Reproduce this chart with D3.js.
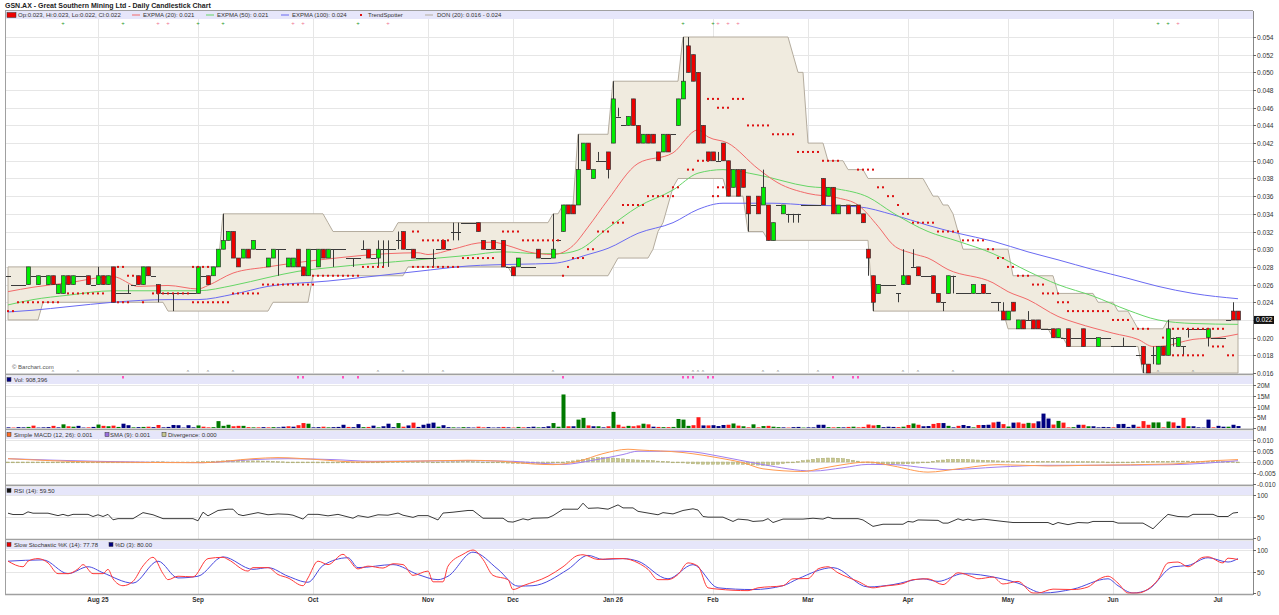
<!DOCTYPE html>
<html>
<head>
<meta charset="utf-8">
<script src="https://cdn.jsdelivr.net/npm/d3@7"></script>
<style>
body { margin: 0; background: #fff; }
text { font-family: "Liberation Sans", Arial, sans-serif; }
</style>
</head>
<body>
<svg id="chart" width="1279" height="615"></svg>
<script>
// month labels and the bar index where each month starts
var monthNames = ["Aug 25", "Sep", "Oct", "Nov", "Dec", "Jan 26", "Feb", "Mar", "Apr", "May", "Jun", "Jul"];
var monthStart = [18, 38, 61, 84, 101, 121, 141, 160, 180, 200, 221, 242];

// daily prices, in thousandths of a dollar
var opens = [27,26,26,26,26,27,26,27,26,27, 25,25,27,26,27,27,27,26,26,27, 26,28,25,25,25,26,27,26,28,27,
  26,25,25,25,25,25,25,25,25,27, 27,27,28,30,31,32,29,29,30,30, 30,30,28,29,30,30,28,28,30,28,
  27,30,28,30,29,30,30,30,29,29, 29,30,30,29,29,30,30,30,31,32, 30,30,29,29,29,29,30,31,30,32,
  32,33,33,33,33,31,30,31,30,31, 28,28,28,28,28,28,30,29,29,29, 31,32,35,35,35,40,42,38,40,40,
  41,42,45,44,44,47,44,42,43,43, 41,41,43,43,44,47,53,52,50,44, 41,41,40,42,40,37,39,39,36,35,
  36,35,35,31,35,34,34,34,34,35, 35,35,35,38,36,37,34,35,35,35, 35,34,30,27,25,26,26,26,25,26,
  27,28,28,27,27,27,25,24,25,27, 25,25,25,25,25,26,25,24,24,23, 22,24,21,22,22,22,22,21,21,21,
  20,20,21,20,20,21,20,20,19,20, 20,19,19,19,19,19,18,19,17,18, 17,19,18,20,19,19,21,21,21,21,
  20,20,20,20,22,23,23];
var highs = [27,26,26,26,28,27,27,27,27,27, 26,27,27,27,27,27,27,26,28,27, 27,28,25,25,26,26,27,28,28,27,
  26,25,25,25,25,25,25,25,28,27, 27,28,30,34,32,32,29,30,30,31, 30,30,29,30,30,30,29,29,30,28,
  30,30,30,30,30,30,30,30,29,29, 29,31,30,29,31,31,31,30,32,32, 30,30,29,29,29,30,30,31,30,33,
  33,33,33,33,33,31,30,31,30,31, 28,28,29,28,28,28,30,29,29,34, 31,35,35,35,43,42,42,39,41,40,
  41,49,46,44,45,47,44,43,43,43, 41,43,43,43,47,54,54,52,50,44, 41,41,41,42,40,39,39,39,36,35,
  36,39,35,33,35,35,34,34,34,35, 35,35,35,38,37,37,35,35,35,35, 35,34,30,27,26,26,26,26,25,30,
  27,30,28,27,27,27,25,24,27,27, 25,25,25,26,25,26,25,24,24,24, 23,24,22,22,23,22,22,21,21,21,
  21,20,21,20,20,21,20,20,20,20, 20,19,19,20,19,19,18,19,17,19, 19,19,22,20,20,19,21,21,21,21,
  21,20,20,20,22,24,23];
var lows = [27,26,26,26,26,27,26,27,26,26, 25,25,26,26,27,27,26,26,26,26, 26,24,25,25,25,26,26,26,27,27,
  24,25,25,23,25,25,25,25,25,27, 26,27,28,30,31,29,28,29,29,30, 30,30,28,29,27,30,28,28,28,27,
  27,30,28,29,29,28,30,30,29,28, 29,30,29,29,28,28,28,30,30,30, 30,29,29,29,29,28,30,30,30,31,
  31,33,33,33,32,30,30,30,30,28, 28,27,28,28,28,28,29,29,29,29, 31,32,34,34,35,40,39,38,40,40,
  38,42,45,44,44,44,42,42,42,42, 40,41,41,43,44,47,50,49,42,42, 40,40,40,40,36,37,36,37,32,35,
  34,35,31,31,35,34,33,33,33,35, 35,35,35,35,36,34,34,35,34,35, 34,33,27,23,25,26,26,26,24,26,
  26,28,27,27,27,25,24,23,25,25, 25,25,25,25,25,25,25,24,23,22, 22,23,21,21,22,21,21,21,21,20,
  20,20,19,20,20,19,20,20,19,20, 20,19,19,19,19,19,18,16,16,17, 17,18,18,19,19,18,20,21,21,21,
  19,20,20,20,22,22,22];
var closes = [27,26,26,26,28,27,27,27,27,26, 26,27,26,27,27,27,26,26,27,26, 27,24,25,25,25,26,26,28,27,27,
  25,25,25,25,25,25,25,25,28,27, 26,28,30,31,32,29,28,30,29,31, 30,30,29,30,30,30,29,29,28,27,
  30,30,30,29,30,30,30,30,29,29, 29,30,29,29,30,30,30,30,31,30, 30,29,29,29,29,29,30,30,30,32,
  32,33,33,33,32,30,30,30,30,28, 28,27,29,28,28,28,29,29,29,30, 31,35,34,34,39,42,39,39,40,40,
  39,47,45,44,45,44,42,43,42,42, 40,43,41,43,47,49,50,49,42,42, 40,40,40,40,36,39,36,37,34,35,
  34,37,31,33,35,35,34,34,34,35, 35,35,35,35,37,34,35,35,34,35, 34,33,29,24,26,26,26,26,25,27,
  26,28,27,27,27,25,24,24,27,27, 25,25,25,26,25,25,25,24,24,22, 23,23,22,21,22,21,21,21,21,20,
  21,20,19,20,20,19,20,20,20,20, 20,19,19,19,19,19,18,17,16,18, 19,18,21,20,20,19,21,21,21,21,
  21,20,20,20,22,22,22];

// daily volume, millions of shares
var volumes = [0.3,0.2,0.4,0.3,0.5,1.1,0.2,0.3,0.4,1.0, 0.3,1.7,0.8,0.6,1.0,0.2,0.3,0.5,1.6,1.0,
  0.8,1.1,0.5,2.0,1.3,0.3,0.4,0.5,0.6,0.4, 1.4,0.3,0.5,1.4,1.3,0.2,1.3,0.3,1.2,0.6,
  0.3,0.4,3.2,1.0,1.5,0.8,1.0,1.0,0.4,0.3, 0.3,0.4,0.3,0.4,0.3,0.6,0.8,0.6,1.3,2.3,
  2.0,0.3,0.4,0.6,0.3,0.4,0.5,1.5,0.5,0.4, 1.8,0.4,0.5,1.1,0.3,0.8,2.0,0.4,2.3,0.6,
  1.2,2.5,0.5,1.5,2.0,2.5,0.6,1.3,0.4,0.3, 0.2,0.4,0.3,0.2,0.6,0.3,0.4,0.2,0.3,0.5,
  0.3,0.2,0.5,0.3,0.4,0.6,0.3,0.4,0.8,2.3, 0.6,15.6,0.8,0.8,3.9,4.7,1.2,0.8,0.8,0.3,
  0.8,7.5,1.5,0.6,1.0,0.8,1.2,2.0,1.7,0.6, 0.5,0.4,0.4,0.5,4.2,3.9,1.0,1.3,5.0,1.2,
  1.2,1.3,0.9,1.4,1.5,2.1,1.1,0.8,0.3,1.7, 0.3,0.9,1.0,0.6,0.4,0.3,0.2,0.4,0.5,0.2,
  0.3,0.3,1.5,1.5,0.4,0.3,0.4,0.3,0.5,0.6, 0.3,0.5,1.6,1.2,1.4,0.4,0.6,0.5,0.4,0.6,
  1.4,2.1,1.5,0.8,0.9,1.9,2.3,2.3,1.0,0.3, 1.0,1.4,0.9,0.3,1.4,1.4,1.5,2.6,2.9,1.8,
  0.7,2.5,2.6,2.0,2.4,2.2,3.1,6.7,4.4,1.6, 3.3,2.5,0.3,0.4,1.5,1.5,0.8,0.8,0.3,0.5,
  0.4,0.3,1.8,1.9,0.5,1.5,0.6,3.2,1.5,2.6, 2.6,0.3,3.0,2.6,1.0,4.7,0.8,0.8,0.3,0.2,
  3.9,0.3,1.0,0.6,0.6,1.5,0.9];

// moving averages: [bar index, price in thousandths]
var ema20 = [[0,25.2],[5,25.7],[12,26.2],[21,26.9],[26,25.8],[32,25.9],[38,25.5],[40,25.9],[45,27.3],[52,28.0],
  [58,28.5],[64,28.9],[76,29.5],[82,29.6],[84,29.4],[89,30.0],[94,30.7],[97,30.8],[100,30.4],[104,29.7],
  [109,29.4],[113,30.4],[116,32.5],[120,35.6],[126,39.7],[133,40.9],[138,43.5],[140,42.7],[144,42.0],[150,39.1],
  [154,37.5],[160,36.3],[166,35.8],[170,35.0],[174,32.6],[177,30.5],[181,29.5],[184,29.0],[188,27.7],[197,26.2],
  [200,25.2],[204,24.3],[210,22.4],[214,21.6],[217,21.1],[221,20.5],[226,19.8],[229,19.0],[232,19.1],[234,19.4],
  [237,19.8],[242,20.0],[246,20.4]];
var ema50 = [[0,23.7],[5,24.3],[12,24.8],[21,25.3],[32,25.3],[38,25.3],[45,25.9],[52,26.8],[58,27.5],[64,27.9],
  [82,28.8],[92,29.3],[99,29.7],[106,29.5],[110,29.5],[114,29.9],[120,32.4],[126,34.8],[133,36.7],[138,38.6],
  [143,39.0],[150,38.4],[160,37.1],[166,36.8],[172,35.9],[177,34.1],[184,32.0],[190,30.9],[197,29.5],[204,27.5],
  [210,26.0],[217,24.7],[224,23.1],[230,22.0],[237,21.6],[246,21.5]];
var ema100 = [[0,22.9],[5,23.1],[12,23.5],[21,24.0],[32,24.3],[38,24.3],[45,24.9],[52,25.8],[64,26.4],[82,27.5],
  [92,28.1],[102,28.3],[109,28.4],[116,29.4],[120,30.1],[126,31.8],[133,33.0],[138,34.5],[143,35.2],[153,35.2],
  [160,35.0],[170,34.8],[177,33.9],[184,32.7],[190,31.8],[197,30.9],[204,29.7],[210,28.8],[217,27.7],[224,26.7],
  [230,25.8],[237,25.0],[246,24.4]];

// Donchian channel (20): [first bar index, level in thousandths]
var donUpper = [[0,28],[43,34],[64,33],[65,32],[78,33],[109,34],[111,35],[114,43],[121,49],[135,54],[157,52],[158,50],
  [160,42],[164,40],[168,39],[172,38],[184,37],[185,36],[187,35],[189,34],[190,32],[191,30],[201,27],[210,25],
  [218,24],[222,23],[225,22],[226,21],[232,22]];
var donLower = [[0,22],[7,24],[32,23],[53,24],[61,27],[80,28],[101,27],[121,28],[122,29],[129,30],[130,32],[131,33],
  [132,35],[133,37],[134,38],[144,36],[148,32],[152,31],[173,23],[200,21],[209,20],[212,19],[227,16]];

// TrendSpotter stop dots: [first bar, last bar, level in thousandths]
var trendDots = [[0,1,23],[2,10,24],[12,19,25],[22,23,28],[22,24,24],[24,25,27],[27,27,24],[29,36,25],[37,40,28],
  [37,44,24],[45,50,25],[51,61,26],[61,70,27],[71,75,28],[81,82,32],[81,90,28],[83,88,31],[91,97,29],[99,102,32],
  [103,110,31],[111,111,27],[112,112,28],[113,115,29],[116,117,30],[118,120,32],[121,123,33],[123,127,35],
  [128,133,36],[133,134,37],[136,137,39],[138,140,40],[141,142,36],[142,144,37],[140,142,47],[142,144,46],
  [145,147,47],[148,152,44],[153,157,43],[158,162,41],[163,166,40],[170,173,39],[174,175,37],[176,177,36],
  [178,178,35],[179,180,34],[181,185,33],[186,190,32],[191,195,31],[196,197,30],[198,199,29],[200,201,28],
  [202,204,27],[205,207,26],[207,210,25],[210,212,24],[212,220,23],[221,224,22],[225,228,21],[231,231,20],
  [233,239,21],[233,239,18],[240,243,21],[241,243,19],[244,245,18]];

// MACD (12,26) and its SMA (9), in thousandths: [bar index, value]
var macdLine = [[0,1.5],[18,0.0],[39,-0.3],[49,1.5],[54,2.0],[62,1.1],[70,0.0],[80,0.3],[92,0.8],[99,0.3],
  [105,-0.9],[109,-1.2],[114,0.3],[119,3.8],[124,5.8],[126,5.5],[135,4.3],[143,1.5],[147,-0.3],[151,-3.1],
  [159,-4.3],[163,-2.8],[167,-1.2],[172,0.0],[177,-1.8],[184,-4.6],[190,-3.1],[198,-1.2],[208,-1.8],[216,-1.5],
  [233,-0.9],[241,0.6],[246,1.1]];
var macdSignal = [[0,1.5],[18,0.3],[39,-0.3],[49,1.1],[56,1.5],[65,1.1],[73,0.3],[92,0.6],[101,0.3],[108,-0.8],
  [111,-1.1],[117,0.8],[123,3.4],[126,4.9],[135,4.9],[143,2.3],[151,-1.2],[161,-4.1],[167,-2.6],[172,-1.1],
  [177,-1.2],[184,-2.8],[188,-3.5],[198,-2.3],[208,-1.5],[216,-1.5],[233,-1.2],[246,0.6]];
// divergence bars, thousandths, one per bar
var macdDiv = [-0.2,-0.2,-0.3,-0.3,-0.3,-0.3,-0.3,-0.3,-0.3,-0.3, -0.3,-0.3,-0.3,-0.3,-0.3,-0.3,-0.2,-0.2,-0.2,-0.2,
  -0.1,-0.1,-0.1,-0.1,-0.1,-0.1,-0.1,0.0,0.0,0.1, 0.1,0.1,0.0,0.0,0.0,0.0,0.0,0.0,0.1,0.2,
  0.2,0.3,0.4,0.5,0.6,0.6,0.6,0.6,0.5,0.5, 0.5,0.4,0.4,0.3,0.2,0.1,0.0,-0.1,-0.2,-0.3,
  -0.3,-0.3,-0.4,-0.4,-0.4,-0.4,-0.4,-0.3,-0.3,-0.3, -0.2,-0.2,-0.1,-0.1,0.0,0.0,0.1,0.1,0.2,0.2,
  0.2,0.2,0.1,0.1,0.1,0.0,0.0,0.1,0.1,0.2, 0.2,0.3,0.3,0.2,0.1,0.0,-0.1,-0.2,-0.3,-0.4,
  -0.5,-0.6,-0.6,-0.7,-0.7,-0.7,-0.6,-0.6,-0.5,-0.4, -0.3,-0.1,0.2,0.5,0.9,1.2,1.5,1.8,2.0,2.0,
  1.9,1.8,1.6,1.4,1.2,1.0,0.9,0.8,0.7,0.6, 0.4,0.3,0.2,0.0,-0.2,-0.4,-0.6,-0.8,-0.9,-1.0,
  -1.0,-1.0,-1.0,-1.0,-1.0,-1.0,-1.0,-1.1,-1.2,-1.3, -1.4,-1.5,-1.5,-1.3,-1.0,-0.7,-0.4,-0.1,0.2,0.6,
  0.9,1.2,1.5,1.7,1.8,1.8,1.7,1.5,1.2,0.8, 0.4,0.0,-0.3,-0.5,-0.7,-0.8,-0.9,-0.9,-0.9,-0.9,
  -0.8,-0.7,-0.5,-0.3,0.0,0.3,0.6,0.9,1.1,1.2, 1.2,1.2,1.1,1.0,0.9,0.8,0.7,0.6,0.5,0.4,
  0.4,0.3,0.3,0.3,0.3,0.3,0.3,0.3,0.3,0.3, 0.3,0.2,0.2,0.2,0.2,0.2,0.2,0.2,0.1,0.1,
  0.0,0.0,-0.1,-0.1,0.0,0.0,0.1,0.2,0.2,0.3, 0.3,0.3,0.3,0.4,0.4,0.4,0.4,0.3,0.3,0.3,
  0.3,0.3,0.2,0.2,0.1,0.1,0.0];

// RSI (14): [bar index, value]
var rsiLine = [[0,57.7],[1,54.6],[3,54.6],[4,60.8],[5,57.7],[8,57.7],[10,52],[11,55],[12,51.5],[13,55],[16,55],
  [17,50],[18,54],[19,50],[20,55],[21,42.3],[22,45],[25,45],[27,59],[29,54],[31,45],[37,45],[38,40],[39,60],
  [40,51.5],[42,64],[44,67],[45,67],[46,55],[47,52],[50,59],[52,54],[54,56],[56,55],[57,53],[59,44],[60,55],
  [62,55],[64,51.5],[66,55],[69,46],[70,52],[72,48],[74,54],[76,53],[78,58],[79,53],[81,48],[82,52],[84,52],
  [86,42],[87,58],[89,60],[92,64],[93,64],[95,46],[99,46],[100,38],[101,37],[103,44.6],[104,42],[105,46],
  [108,47],[109,52],[111,67],[114,67],[115,81],[116,69],[118,70],[120,67],[122,77],[123,70],[125,70],[126,62],
  [128,58],[130,54],[131,59],[133,56],[135,64],[137,68],[138,65],[139,50],[140,48.5],[143,48.5],[145,38.5],
  [146,44],[148,42],[149,38.5],[151,40],[152,45],[153,36],[155,44],[159,44],[161,46],[163,44],[164,48.5],
  [165,45],[170,45],[171,42],[173,27],[175,32],[179,32],[180,38.5],[181,37],[182,42],[186,41],[187,34.6],
  [188,34.6],[190,44.6],[191,41],[192,44],[193,41],[195,44],[199,38.5],[201,36],[208,36],[209,31],[210,36],
  [212,31],[214,36],[216,35],[217,38.5],[221,38.5],[222,34.6],[227,34.6],[229,21.5],[231,44.6],[232,55],
  [234,50],[236,49],[237,55],[241,55],[242,50],[244,50],[245,58],[246,59.5]];

// Slow stochastic %K (14) and %D (3): [bar index, value]
var stochK = [[0,74],[3,61],[4,74],[6,80],[8,70],[10,45],[12,45],[14,56],[15,66],[17,45],[19,45],[20,55],
  [21,33],[23,17],[25,27],[27,63],[29,83],[31,45],[32,31],[34,39],[37,37.5],[40,80],[43,83],[44,78],[48,51],
  [49,59],[52,59],[54,43],[56,35],[59,17],[60,35],[62,74],[64,66],[67,90],[68,80],[70,56],[72,62.5],[75,58],
  [77,68],[79,66],[81,41],[84,51],[85,26],[87,26],[88,62.5],[91,90],[93,100],[95,78],[97,41],[100,31],[101,8],
  [103,17],[108,39],[111,61],[114,87.5],[115,89],[118,78],[121,80],[123,80],[126,70],[128,55],[130,31],[132,31],
  [134,43],[136,70],[138,62.5],[140,12],[142,9],[148,5.5],[150,12],[155,17],[157,33],[160,33.6],[162,56],
  [164,61],[166,47],[170,27],[173,12],[175,15.6],[179,22],[181,31],[184,33],[187,19.5],[190,47],[193,37],
  [194,33],[197,37],[199,21],[202,27],[205,0],[206,0],[209,9],[213,8],[216,14],[218,31],[220,39],[222,23],
  [224,0],[226,0],[228,9],[230,31],[232,70],[234,72],[236,61],[239,83],[240,84],[243,70],[244,81],[246,77.8]];
var stochD = [[0,74],[7,77],[12,45],[16,61],[19,47],[25,23],[30,74],[34,35],[38,39],[43,84],[49,55],[52,59],
  [56,39],[60,25],[63,64],[68,82],[70,59],[77,66],[82,43],[86,31],[88,39],[93,95],[98,55],[102,16],[105,17],
  [112,55],[116,87.5],[119,78],[123,80],[126,74],[132,33],[137,66],[142,12],[149,8],[155,17],[158,33],[165,59],
  [172,14],[177,19.5],[183,33],[186,27],[191,45],[198,35],[202,23],[207,0],[213,9],[220,33],[222,17],[225,0],
  [228,8],[233,61],[236,64],[240,82],[244,72],[246,80]];

// signal markers: bar indexes
var topGreenMarks = [11, 23, 38, 43, 70, 135, 141, 230, 232];
var topPinkMarks = [30, 32, 57, 59, 76, 142, 144, 146, 234];
var bottomCarets = [9, 14, 36, 40, 45, 74, 79, 87, 109, 137, 138, 139, 151, 154, 162, 179, 182, 189, 230, 237];
var bottomPinkMarks = [23, 58, 59, 67, 70, 111, 135, 136, 137, 140, 141, 165, 169, 170];

// ---------------------------------------------------------------
var svg = d3.select("#chart");
var leftX = 5, rightX = 1253;
var nBars = closes.length;

var x = d3.scaleLinear().domain([0, nBars - 1]).range([8, 1238]);

// panels
var yPrice = d3.scaleLinear().domain([16, 54]).range([373, 37]);
var yVol = d3.scaleLinear().domain([0, 20]).range([428, 385]);
var yMacd = d3.scaleLinear().domain([-10, 10]).range([484, 440]);
var yRsi = d3.scaleLinear().domain([0, 100]).range([538, 495]);
var ySto = d3.scaleLinear().domain([0, 100]).range([593, 550]);

var panels = [
  {band: 11, top: 19, bottom: 374},
  {band: 376, top: 384, bottom: 429},
  {band: 431, top: 439, bottom: 485},
  {band: 487, top: 495, bottom: 539},
  {band: 541, top: 549, bottom: 594}
];

function expand(runs) {
  var out = [];
  var k = 0;
  for (var i = 0; i < nBars; i++) {
    while (k + 1 < runs.length && runs[k + 1][0] <= i) k++;
    out.push(runs[k][1]);
  }
  return out;
}

var fontTick = 6.6;
var fontLegend = 6.0;

// header bands
panels.forEach(function(p) {
  svg.append("rect").attr("x", leftX).attr("y", p.band).attr("width", rightX - leftX).attr("height", 8)
    .attr("fill", "#e6e6fa");
});

// gridlines
var grid = svg.append("g").attr("stroke", "#e6e6e6").attr("stroke-width", 1);
monthStart.forEach(function(m) {
  var gx = Math.round(x(m)) + 0.5;
  panels.forEach(function(p) {
    grid.append("line").attr("x1", gx).attr("x2", gx).attr("y1", p.top).attr("y2", p.bottom);
  });
});
function hgrid(scale, ticks) {
  ticks.forEach(function(t) {
    var gy = Math.round(scale(t)) + 0.5;
    grid.append("line").attr("x1", leftX).attr("x2", rightX).attr("y1", gy).attr("y2", gy);
  });
}
var priceTicks = d3.range(16, 55, 2);
hgrid(yPrice, priceTicks);
hgrid(yVol, [0, 5, 10, 15, 20]);
hgrid(yMacd, [-10, -5, 0, 5, 10]);
hgrid(yRsi, [50, 100]);
hgrid(ySto, [50, 100]);

// Donchian band
var upArr = expand(donUpper), loArr = expand(donLower);
var bandPts = [];
for (var i = 0; i < nBars; i++) bandPts.push([x(i), yPrice(upArr[i])]);
for (var j = nBars - 1; j >= 0; j--) bandPts.push([x(j), yPrice(loArr[j])]);
svg.append("path")
  .attr("d", d3.line()(bandPts) + "Z")
  .attr("fill", "#f0ebdf").attr("stroke", "#b4ac9e").attr("stroke-width", 1);

// moving averages
function drawLine(pts, scale, color, width, curve) {
  svg.append("path")
    .attr("d", d3.line().x(function(d) { return x(d[0]); }).y(function(d) { return scale(d[1]); })
      .curve(curve || d3.curveMonotoneX)(pts))
    .attr("fill", "none").attr("stroke", color).attr("stroke-width", width || 1);
}
drawLine(ema100, yPrice, "#6a6af2");
drawLine(ema50, yPrice, "#66d666");
drawLine(ema20, yPrice, "#f26a6a");

// candles
var cg = svg.append("g");
for (var b = 0; b < nBars; b++) {
  var cx = Math.round(x(b)) + 0.5;
  var o = opens[b], h = highs[b], l = lows[b], c = closes[b];
  if (h !== l) {
    cg.append("line").attr("x1", cx).attr("x2", cx)
      .attr("y1", yPrice(h)).attr("y2", yPrice(l)).attr("stroke", "#3a3a3a").attr("stroke-width", 1);
  }
  if (o === c) {
    var dy = Math.round(yPrice(o)) + 0.5;
    cg.append("line").attr("x1", cx - 2.5).attr("x2", cx + 2.5).attr("y1", dy).attr("y2", dy)
      .attr("stroke", "#3a3a3a").attr("stroke-width", 1);
  } else {
    var bodyTop = yPrice(Math.max(o, c)), bodyBot = yPrice(Math.min(o, c));
    cg.append("rect").attr("x", cx - 2).attr("y", bodyTop).attr("width", 4).attr("height", bodyBot - bodyTop)
      .attr("fill", c > o ? "#00ee00" : "#ee0000").attr("stroke", "#333").attr("stroke-width", 0.7);
  }
}

// TrendSpotter dots
var dg = svg.append("g").attr("fill", "#dd1111");
trendDots.forEach(function(r) {
  for (var i = r[0]; i <= r[1]; i++) {
    dg.append("rect").attr("x", x(i) - 1).attr("y", yPrice(r[2]) - 1).attr("width", 2).attr("height", 2);
  }
});

// signal markers
topGreenMarks.forEach(function(i) {
  svg.append("text").attr("x", x(i)).attr("y", 25).attr("text-anchor", "middle")
    .attr("font-size", 6).attr("fill", "#2a9a2a").text("+");
});
topPinkMarks.forEach(function(i) {
  svg.append("text").attr("x", x(i)).attr("y", 25).attr("text-anchor", "middle")
    .attr("font-size", 6).attr("fill", "#f07090").text("+");
});
bottomCarets.forEach(function(i) {
  svg.append("text").attr("x", x(i)).attr("y", 374).attr("text-anchor", "middle")
    .attr("font-size", 5).attr("fill", "#777").text("^");
});
bottomPinkMarks.forEach(function(i) {
  svg.append("rect").attr("x", x(i) - 1).attr("y", 376).attr("width", 2).attr("height", 2.5).attr("fill", "#ff55bb");
});

// volume bars
var vg = svg.append("g");
for (var v = 0; v < nBars; v++) {
  var prevClose = v > 0 ? closes[v - 1] : closes[v];
  var col = closes[v] > prevClose ? "#007a00" : (closes[v] < prevClose ? "#ff1a1a" : "#000080");
  var vy = yVol(volumes[v]);
  vg.append("rect").attr("x", Math.round(x(v)) - 1.5).attr("y", vy).attr("width", 4)
    .attr("height", yVol(0) - vy).attr("fill", col);
}

// MACD
var hg = svg.append("g").attr("fill", "#c8c890").attr("stroke", "#a9a970").attr("stroke-width", 0.5);
for (var m = 0; m < nBars; m++) {
  var y0 = yMacd(0), y1 = yMacd(macdDiv[m]);
  hg.append("rect").attr("x", Math.round(x(m)) - 1.5).attr("y", Math.min(y0, y1)).attr("width", 3)
    .attr("height", Math.max(0.8, Math.abs(y1 - y0)));
}
drawLine(macdSignal, yMacd, "#a07ff0");
drawLine(macdLine, yMacd, "#ff9a50");

// RSI and stochastic
drawLine(rsiLine, yRsi, "#3a3a3a", 1, d3.curveLinear);
drawLine(stochD, ySto, "#4a4ae0", 1, d3.curveMonotoneX);
drawLine(stochK, ySto, "#ff3a3a", 1, d3.curveMonotoneX);

// frames and separators
var fr = svg.append("g").attr("stroke", "#a0a0a0").attr("fill", "none");
fr.append("line").attr("x1", leftX + 0.5).attr("x2", leftX + 0.5).attr("y1", 11).attr("y2", 595);
fr.append("line").attr("x1", rightX + 0.5).attr("x2", rightX + 0.5).attr("y1", 11).attr("y2", 595).attr("stroke", "#888");
fr.append("line").attr("x1", leftX).attr("x2", rightX).attr("y1", 10.5).attr("y2", 10.5);
[374.5, 429.5, 485.5, 539.5, 594.5].forEach(function(sy) {
  fr.append("line").attr("x1", leftX).attr("x2", rightX).attr("y1", sy).attr("y2", sy).attr("stroke-width", 1.5);
});

// right axes
function rightAxis(scale, ticks, fmt) {
  var g = svg.append("g");
  ticks.forEach(function(t) {
    var ty = Math.round(scale(t)) + 0.5;
    g.append("line").attr("x1", rightX).attr("x2", rightX + 3).attr("y1", ty).attr("y2", ty).attr("stroke", "#666");
    g.append("text").attr("x", rightX + 4).attr("y", ty + 2.3).attr("font-size", fontTick).attr("fill", "#333").text(fmt(t));
  });
}
rightAxis(yPrice, priceTicks, function(t) { return (t / 1000).toFixed(3); });
rightAxis(yVol, [0, 5, 10, 15, 20], function(t) { return t + "M"; });
rightAxis(yMacd, [-10, -5, 0, 5, 10], function(t) { return (t / 1000).toFixed(3); });
rightAxis(yRsi, [0, 50, 100], function(t) { return t; });
rightAxis(ySto, [0, 50, 100], function(t) { return t; });

// last price flag
var lastY = yPrice(closes[nBars - 1]);
svg.append("rect").attr("x", rightX + 1).attr("y", lastY - 4).attr("width", 20).attr("height", 8).attr("fill", "#111");
svg.append("text").attr("x", rightX + 3).attr("y", lastY + 2.3).attr("font-size", fontTick).attr("fill", "#fff")
  .text((closes[nBars - 1] / 1000).toFixed(3));

// month labels
monthNames.forEach(function(name, k) {
  svg.append("text").attr("x", x(monthStart[k])).attr("y", 602).attr("text-anchor", "middle")
    .attr("font-size", 6.4).attr("font-weight", "bold").attr("fill", "#333").text(name);
});

// title and legends
svg.append("text").attr("x", 5).attr("y", 8).attr("font-size", 7).attr("font-weight", "bold").attr("fill", "#222")
  .text("GSN.AX - Great Southern Mining Ltd - Daily Candlestick Chart");

function legendBox(xp, yp, color) {
  svg.append("rect").attr("x", xp).attr("y", yp - 2.5).attr("width", 4).attr("height", 4)
    .attr("fill", color).attr("stroke", "#333").attr("stroke-width", 0.5);
}
function legendLine(xp, yp, color) {
  svg.append("line").attr("x1", xp).attr("x2", xp + 8).attr("y1", yp).attr("y2", yp).attr("stroke", color).attr("stroke-width", 1);
}
function legendText(xp, yp, s) {
  svg.append("text").attr("x", xp).attr("y", yp + 2.2).attr("font-size", fontLegend).attr("fill", "#333").text(s);
}
var ly = 15;
svg.append("rect").attr("x", 7).attr("y", ly - 2.5).attr("width", 9).attr("height", 5).attr("fill", "#ee0000")
  .attr("stroke", "#333").attr("stroke-width", 0.5);
legendText(18, ly, "Op:0.023, Hi:0.023, Lo:0.022, Cl:0.022");
legendLine(132, ly, "#f26a6a"); legendText(143, ly, "EXPMA (20): 0.021");
legendLine(206, ly, "#66d666"); legendText(217, ly, "EXPMA (50): 0.021");
legendLine(281, ly, "#6a6af2"); legendText(292, ly, "EXPMA (100): 0.024");
svg.append("rect").attr("x", 360).attr("y", ly - 1).attr("width", 2).attr("height", 2).attr("fill", "#dd1111");
legendText(368, ly, "TrendSpotter");
legendLine(425, ly, "#b4ac9e"); legendText(437, ly, "DON (20): 0.016 - 0.024");

legendBox(7, 380, "#000080"); legendText(14, 380, "Vol: 908,396");
legendBox(7, 435, "#ff6a20"); legendText(14, 435, "Simple MACD (12, 26): 0.001");
legendBox(105, 435, "#9a70e0"); legendText(110, 435, "SMA (9): 0.001");
legendBox(162, 435, "#c8c890"); legendText(168, 435, "Divergence: 0.000");
legendBox(7, 491, "#111"); legendText(14, 491, "RSI (14): 59.50");
legendBox(7, 545, "#ee0000"); legendText(14, 545, "Slow Stochastic %K (14): 77.78");
legendBox(109, 545, "#000080"); legendText(115, 545, "%D (3): 80.00");

svg.append("text").attr("x", 12).attr("y", 369).attr("font-size", 6).attr("fill", "#555").text("\u00a9 Barchart.com");
</script>
</body>
</html>
